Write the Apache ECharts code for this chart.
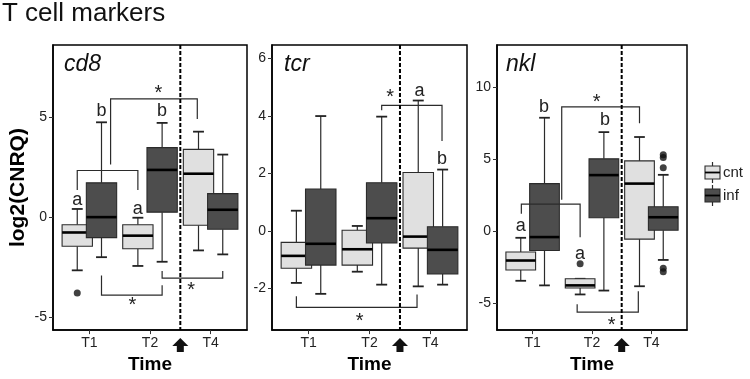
<!DOCTYPE html>
<html>
<head>
<meta charset="utf-8">
<script src="https://cdn.jsdelivr.net/npm/echarts@6/dist/echarts.min.js"></script>
<style>
html,body{margin:0;padding:0;background:#fff;}
#main{width:750px;height:379px;}
</style>
</head>
<body>
<div id="main"></div>
<script>
var FONT = '"Liberation Sans", Arial, sans-serif';
var times = ['T1', 'T2', 'T4'];

// box stats per time point: [lower whisker, q1, median, q3, upper whisker]
var cd8Cnt = [[-2.67, -1.46, -0.77, -0.38, 0.41], [-2.45, -1.59, -0.93, -0.38, -0.03], [-1.67, -0.41, 2.18, 3.40, 4.29]];
var cd8Inf = [[-2.01, -1.03, 0.00, 1.72, 4.76], [-2.24, 0.25, 2.37, 3.49, 4.73], [-1.87, -0.61, 0.37, 1.18, 3.14]];
var tcrCnt = [[-1.81, -1.30, -0.87, -0.40, 0.70], [-1.42, -1.19, -0.64, 0.02, 0.17], [-1.93, -0.60, -0.20, 2.03, 4.53]];
var tcrInf = [[-2.19, -1.19, -0.45, 1.45, 3.99], [-1.87, -0.42, 0.44, 1.67, 3.97], [-1.87, -1.50, -0.66, 0.14, 2.13]];
var nklCnt = [[-3.47, -2.72, -2.06, -1.47, -0.48], [-4.42, -3.97, -3.79, -3.33, -3.33], [-3.85, -0.57, 3.29, 4.87, 6.53]];
var nklInf = [[-3.79, -1.36, -0.43, 3.29, 7.87], [-4.15, 0.91, 3.88, 5.01, 6.87], [-2.02, 0.05, 0.95, 1.68, 3.90]];

// outliers: [time index, value]
var cd8CntOut = [[0, -3.81]];
var cd8InfOut = [];
var tcrCntOut = [];
var tcrInfOut = [];
var nklCntOut = [[1, -2.29]];
var nklInfOut = [[2, 5.3], [2, 5.1], [2, 4.4], [2, -2.6], [2, -2.85]];

// y tick labels
var cd8Ticks = [-5, 0, 5];
var tcrTicks = [-2, 0, 2, 4, 6];
var nklTicks = [-5, 0, 5, 10];

// significance annotations (axis units)
var cd8Letters = [['a', 0.8, 0.88], ['b', 1.2, 5.35], ['a', 1.8, 0.43], ['b', 2.2, 5.35]];
var cd8Stars = [[2.14, 6.4], [1.71, -4.21], [2.68, -3.47]];
var cd8Brackets = [
  [[0.8, 1.36], [0.8, 2.34], [1.8, 2.34], [1.8, 1.36]],
  [[1.35, 2.64], [1.35, 5.94], [2.78, 5.94], [2.78, 4.92]],
  [[1.2, -2.93], [1.2, -3.91], [2.2, -3.91], [2.2, -3.42]],
  [[2.2, -2.70], [2.2, -3.06], [3.2, -3.06], [3.2, -2.70]]
];
var tcrLetters = [['a', 2.82, 4.87], ['b', 3.19, 2.49]];
var tcrStars = [[2.34, 4.76], [1.84, -3.0]];
var tcrBrackets = [
  [[2.2, 4.19], [2.2, 4.36], [3.19, 4.36], [3.19, 3.12]],
  [[0.8, -2.27], [0.8, -2.66], [2.78, -2.66], [2.78, -2.21]]
];
var nklLetters = [['a', 0.8, 0.34], ['b', 1.19, 8.62], ['a', 1.8, -1.59], ['b', 2.22, 7.71]];
var nklStars = [[2.08, 9.18], [2.33, -6.3]];
var nklBrackets = [
  [[0.81, 1.2], [0.81, 1.86], [1.8, 1.86], [1.8, -0.45]],
  [[1.49, 2.16], [1.49, 8.62], [2.8, 8.62], [2.8, 7.48]],
  [[1.75, -5.1], [1.75, -5.65], [2.78, -5.65], [2.78, -4.2]]
];

var panels = [
  {name: 'cd8', cnt: cd8Cnt, inf: cd8Inf, cntOut: cd8CntOut, infOut: cd8InfOut, ticks: cd8Ticks,
   letters: cd8Letters, stars: cd8Stars, brackets: cd8Brackets, min: -5.67, max: 8.64,
   grid: {left: 53, top: 45, width: 194, height: 291}, titleLeft: 64},
  {name: 'tcr', cnt: tcrCnt, inf: tcrInf, cntOut: tcrCntOut, infOut: tcrInfOut, ticks: tcrTicks,
   letters: tcrLetters, stars: tcrStars, brackets: tcrBrackets, min: -3.45, max: 6.46,
   grid: {left: 272, top: 45, width: 195, height: 291}, titleLeft: 284},
  {name: 'nkl', cnt: nklCnt, inf: nklInf, cntOut: nklCntOut, infOut: nklInfOut, ticks: nklTicks,
   letters: nklLetters, stars: nklStars, brackets: nklBrackets, min: -6.9, max: 12.93,
   grid: {left: 497, top: 45, width: 190, height: 291}, titleLeft: 506}
];

var DODGE = 0.2;

function boxItem(params, api) {
  var x = api.value(0);
  var lo = api.coord([x, api.value(1)]);
  var q1 = api.coord([x, api.value(2)]);
  var md = api.coord([x, api.value(3)]);
  var q3 = api.coord([x, api.value(4)]);
  var hi = api.coord([x, api.value(5)]);
  var half = api.size([0.25, 0])[0];
  var cap = api.size([0.09, 0])[0];
  var cx = lo[0];
  var line = {stroke: '#2b2b2b', lineWidth: 1.2};
  var capStyle = {stroke: '#222', lineWidth: 1.8};
  return {type: 'group', children: [
    {type: 'line', shape: {x1: cx, y1: hi[1], x2: cx, y2: q3[1]}, style: line},
    {type: 'line', shape: {x1: cx, y1: q1[1], x2: cx, y2: lo[1]}, style: line},
    {type: 'line', shape: {x1: cx - cap, y1: hi[1], x2: cx + cap, y2: hi[1]}, style: capStyle},
    {type: 'line', shape: {x1: cx - cap, y1: lo[1], x2: cx + cap, y2: lo[1]}, style: capStyle},
    {type: 'rect', shape: {x: cx - half, y: q3[1], width: 2 * half, height: q1[1] - q3[1]},
     style: {fill: api.visual('color'), stroke: '#2b2b2b', lineWidth: 1.1}},
    {type: 'line', shape: {x1: cx - half, y1: md[1], x2: cx + half, y2: md[1]},
     style: {stroke: '#000', lineWidth: 2.6}}
  ]};
}

function annotItem(p) {
  return function (params, api) {
    var top = api.coord([2.5, p.max]);
    var bot = api.coord([2.5, p.min]);
    var cx = top[0], yb = bot[1];
    var kids = [];
    p.brackets.forEach(function (br) {
      kids.push({type: 'polyline', shape: {points: br.map(function (pt) { return api.coord(pt); })},
        style: {stroke: '#2b2b2b', lineWidth: 1.2, fill: null}});
    });
    p.letters.forEach(function (l) {
      var c = api.coord([l[1], l[2]]);
      kids.push({type: 'text', x: c[0], y: c[1],
        style: {text: l[0], fill: '#222', font: '18px ' + FONT, align: 'center', verticalAlign: 'middle'}});
    });
    p.stars.forEach(function (s) {
      var c = api.coord(s);
      kids.push({type: 'text', x: c[0], y: c[1] + 4,
        style: {text: '*', fill: '#222', font: '20px ' + FONT, align: 'center', verticalAlign: 'middle'}});
    });
    kids.push({type: 'line', shape: {x1: cx, y1: top[1], x2: cx, y2: yb},
      style: {stroke: '#000', lineWidth: 2, lineDash: [4, 2]}});
    kids.push({type: 'polygon', shape: {points: [
      [cx, yb + 8], [cx + 8, yb + 16], [cx + 3.5, yb + 16], [cx + 3.5, yb + 22],
      [cx - 3.5, yb + 22], [cx - 3.5, yb + 16], [cx - 8, yb + 16]]},
      style: {fill: '#111'}});
    return {type: 'group', children: kids};
  };
}

var grids = [], xAxes = [], yAxes = [], series = [];
var titles = [{text: 'T cell markers', left: 2, top: 1, padding: 0,
  textStyle: {fontSize: 26, fontWeight: 'normal', color: '#111', fontFamily: FONT}}];

panels.forEach(function (p, i) {
  grids.push({left: p.grid.left, top: p.grid.top, width: p.grid.width, height: p.grid.height,
    show: true, borderColor: '#000', borderWidth: 1.5, backgroundColor: '#fff'});
  titles.push({text: p.name, left: p.titleLeft, top: 53, padding: 0,
    textStyle: {fontSize: 23, fontStyle: 'italic', fontWeight: 'normal', color: '#111', fontFamily: FONT}});
  xAxes.push({
    gridIndex: i, type: 'value', min: 0.4, max: 3.6,
    axisLine: {show: true, onZero: false, lineStyle: {color: '#000', width: 1.5}},
    axisTick: {show: true, customValues: [1, 2, 3], length: 4, lineStyle: {color: '#333'}},
    axisLabel: {customValues: [1, 2, 3], formatter: function (v) { return times[Math.round(v) - 1]; },
      fontSize: 14, color: '#222', fontFamily: FONT, margin: 6},
    splitLine: {show: false},
    name: 'Time', nameLocation: 'middle', nameGap: 22,
    nameTextStyle: {fontSize: 19, fontWeight: 'bold', color: '#000', fontFamily: FONT}
  });
  var ya = {
    gridIndex: i, type: 'value', min: p.min, max: p.max,
    axisLine: {show: true, onZero: false, lineStyle: {color: '#000', width: 1.5}},
    axisTick: {show: true, customValues: p.ticks, length: 4, lineStyle: {color: '#333'}},
    axisLabel: {customValues: p.ticks, fontSize: 14, color: '#222', fontFamily: FONT, margin: 6},
    splitLine: {show: false}
  };
  if (i === 0) {
    ya.name = 'log2(CNRQ)';
    ya.nameLocation = 'middle';
    ya.nameGap = 24;
    ya.nameTextStyle = {fontSize: 21, fontWeight: 'bold', color: '#000', fontFamily: FONT};
  }
  yAxes.push(ya);

  series.push({
    name: 'cnt', type: 'custom', xAxisIndex: i, yAxisIndex: i, z: 2,
    itemStyle: {color: '#e0e0e0'}, renderItem: boxItem,
    data: p.cnt.map(function (b, k) { return [k + 1 - DODGE].concat(b); })
  });
  series.push({
    name: 'inf', type: 'custom', xAxisIndex: i, yAxisIndex: i, z: 2,
    itemStyle: {color: '#4d4d4d'}, renderItem: boxItem,
    data: p.inf.map(function (b, k) { return [k + 1 + DODGE].concat(b); })
  });
  series.push({
    type: 'scatter', xAxisIndex: i, yAxisIndex: i, z: 3, symbolSize: 7,
    itemStyle: {color: '#111'},
    data: p.cntOut.map(function (o) { return [o[0] + 1 - DODGE, o[1]]; })
      .concat(p.infOut.map(function (o) { return [o[0] + 1 + DODGE, o[1]]; }))
  });
  series.push({
    type: 'custom', xAxisIndex: i, yAxisIndex: i, z: 4, clip: false,
    renderItem: annotItem(p), data: [[2.5, 0]]
  });
});

function legendIcon(y, fill) {
  return {type: 'group', children: [
    {type: 'line', shape: {x1: 712.5, y1: y - 4, x2: 712.5, y2: y + 17}, style: {stroke: '#2b2b2b', lineWidth: 1.2}},
    {type: 'rect', shape: {x: 705, y: y, width: 15, height: 13}, style: {fill: fill, stroke: '#2b2b2b', lineWidth: 1.1}},
    {type: 'line', shape: {x1: 705, y1: y + 6.5, x2: 720, y2: y + 6.5}, style: {stroke: '#000', lineWidth: 1.8}}
  ]};
}

var chart = echarts.init(document.getElementById('main'));
chart.setOption({
  backgroundColor: '#fff',
  animation: false,
  title: titles,
  grid: grids,
  xAxis: xAxes,
  yAxis: yAxes,
  series: series,
  graphic: [
    legendIcon(166, '#e0e0e0'),
    legendIcon(189, '#4d4d4d'),
    {type: 'text', x: 723, y: 173, style: {text: 'cnt', fill: '#222', font: '15px ' + FONT, verticalAlign: 'middle'}},
    {type: 'text', x: 723, y: 196, style: {text: 'inf', fill: '#222', font: '15px ' + FONT, verticalAlign: 'middle'}}
  ]
});
</script>
</body>
</html>
